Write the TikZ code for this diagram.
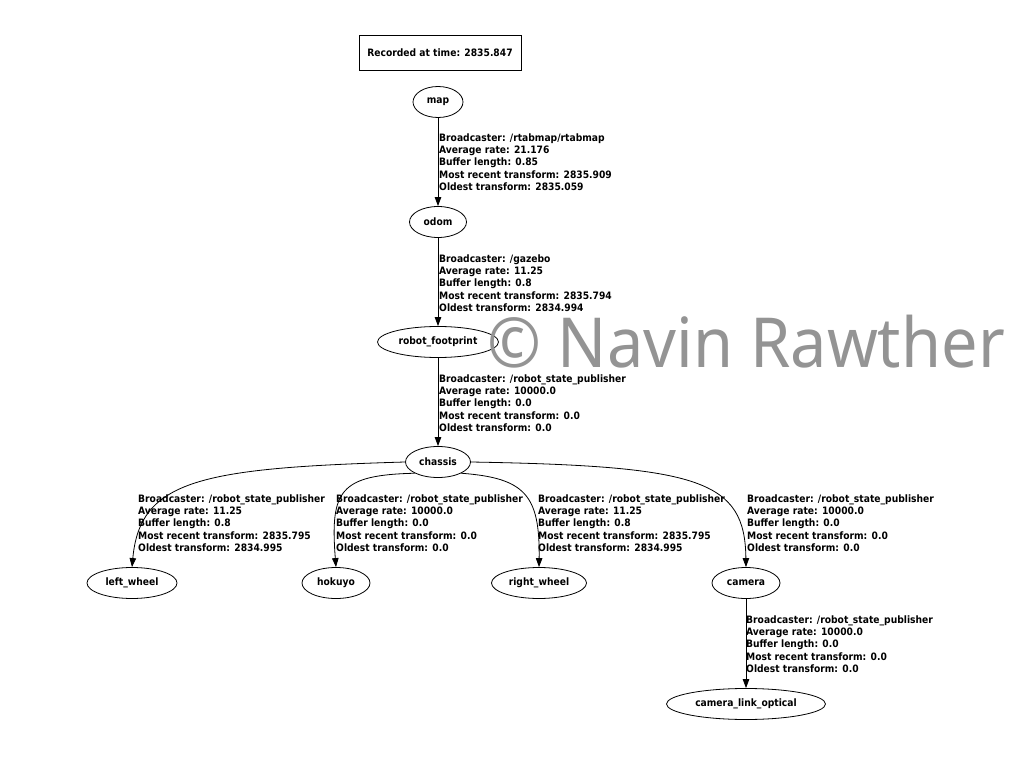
\documentclass[tikz,border=0pt]{standalone}
\usepackage{fontspec}
\newfontfamily\gv{DejaVu Sans Condensed Bold}
\newfontfamily\wm{Noto Sans}[FakeStretch=0.94]
\usetikzlibrary{shapes.geometric,arrows.meta}
\begin{document}
\begin{tikzpicture}[x=1pt,y=-1pt,
  every node/.style={font=\gv\fontsize{10.2}{12.3}\selectfont},
  frame/.style={ellipse,draw,line width=0.8pt,inner sep=0pt,minimum height=31pt},
  lab/.style={anchor=west,align=left,inner sep=0pt},
  edge/.style={line width=0.8pt,-{Triangle[length=9pt,width=6.5pt]}}]
\useasboundingbox (0,0) rectangle (1015,775);
\node[draw,line width=0.8pt,minimum width=162pt,minimum height=35pt,inner sep=0pt] (rec) at (440,52.5) {Recorded at time: 2835.847};
\node[frame,minimum width=50pt] (map) at (438,102) {map};
\node[frame,minimum width=57pt] (odom) at (438,222) {odom};
\node[frame,minimum width=121pt] (rf) at (438,342) {robot\_footprint};
\node[frame,minimum width=65pt] (ch) at (438,462) {chassis};
\node[frame,minimum width=90pt] (lw) at (132,583) {left\_wheel};
\node[frame,minimum width=68pt] (hk) at (336,583) {hokuyo};
\node[frame,minimum width=95pt] (rw) at (539,583) {right\_wheel};
\node[frame,minimum width=68pt] (cam) at (746,583) {camera};
\node[frame,minimum width=159pt] (clo) at (746,704) {camera\_link\_optical};
\node[font=\wm\fontsize{69}{80}\selectfont,text=black!42,anchor=base west,inner sep=0pt] (wmk) at (487,368) {© Navin Rawther};
\draw[edge] (map) -- (odom);
\draw[edge] (odom) -- (rf);
\draw[edge] (rf) -- (ch);
\draw[edge] (ch.west) .. controls (200,468) and (140,480) .. (lw.north);
\draw[edge] (ch.south west) .. controls (340,475) and (330,490) .. (hk.north);
\draw[edge] (ch.south east) .. controls (525,478) and (540,495) .. (rw.north);
\draw[edge] (ch.east) .. controls (700,466) and (745,480) .. (cam.north);
\draw[edge] (cam) -- (clo);
\node[lab] (l1) at (439,162) {Broadcaster: /rtabmap/rtabmap\\Average rate: 21.176\\Buffer length: 0.85\\Most recent transform: 2835.909\\Oldest transform: 2835.059};
\node[lab] (l2) at (439,283) {Broadcaster: /gazebo\\Average rate: 11.25\\Buffer length: 0.8\\Most recent transform: 2835.794\\Oldest transform: 2834.994};
\node[lab] (l3) at (439,403) {Broadcaster: /robot\_state\_publisher\\Average rate: 10000.0\\Buffer length: 0.0\\Most recent transform: 0.0\\Oldest transform: 0.0};
\node[lab] (l4) at (138,523) {Broadcaster: /robot\_state\_publisher\\Average rate: 11.25\\Buffer length: 0.8\\Most recent transform: 2835.795\\Oldest transform: 2834.995};
\node[lab] (l5) at (336,523) {Broadcaster: /robot\_state\_publisher\\Average rate: 10000.0\\Buffer length: 0.0\\Most recent transform: 0.0\\Oldest transform: 0.0};
\node[lab] (l6) at (538,523) {Broadcaster: /robot\_state\_publisher\\Average rate: 11.25\\Buffer length: 0.8\\Most recent transform: 2835.795\\Oldest transform: 2834.995};
\node[lab] (l7) at (747,523) {Broadcaster: /robot\_state\_publisher\\Average rate: 10000.0\\Buffer length: 0.0\\Most recent transform: 0.0\\Oldest transform: 0.0};
\node[lab] (l8) at (746,644) {Broadcaster: /robot\_state\_publisher\\Average rate: 10000.0\\Buffer length: 0.0\\Most recent transform: 0.0\\Oldest transform: 0.0};
\end{tikzpicture}
\end{document}
